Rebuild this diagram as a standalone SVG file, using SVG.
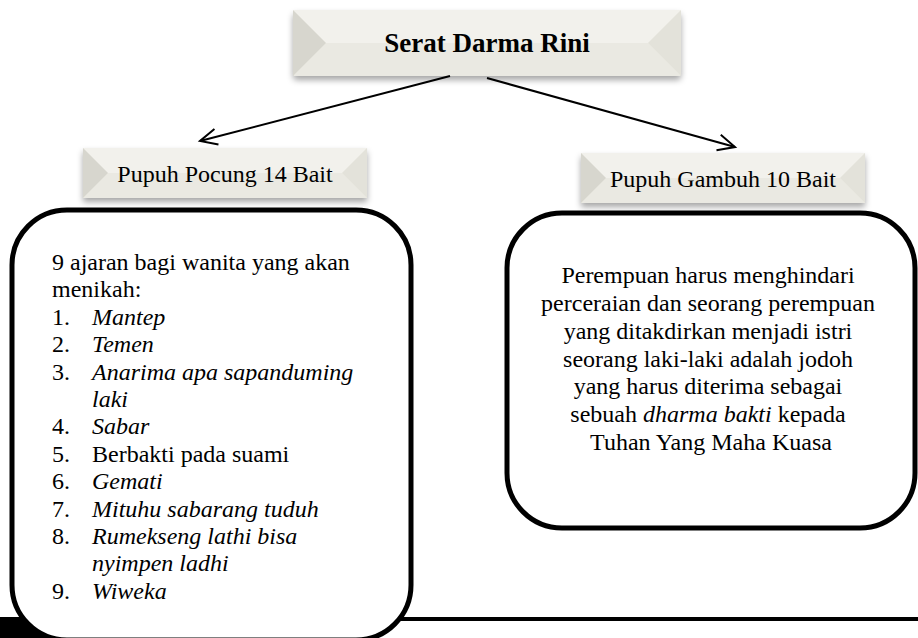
<svg xmlns="http://www.w3.org/2000/svg" width="918" height="638" viewBox="0 0 918 638">
<defs>
<filter id="sh" x="-10%" y="-20%" width="120%" height="160%">
<feDropShadow dx="0" dy="4" stdDeviation="3" flood-color="#000" flood-opacity="0.35"/>
</filter>
<marker id="arr" markerUnits="userSpaceOnUse" markerWidth="24" markerHeight="24" refX="0" refY="0" viewBox="-20 -12 24 24" orient="auto" overflow="visible">
<path d="M-17,-8 L0,0 L-17,8" fill="none" stroke="#000" stroke-width="2"/>
</marker>
</defs>
<style>
text{font-family:"Liberation Serif","Times New Roman",serif;fill:#000}
.t{font-size:24px}
.h{font-size:27px;font-weight:bold}
.i{font-style:italic}
.face{fill:#EFEEE8}
.top{fill:#F2F1EC}
.bot{fill:#EAE9E2}
.lft{fill:#D7D6CE}
.rgt{fill:#E3E2DA}
.big{fill:#fff;stroke:#000;stroke-width:5}
.conn{stroke:#000;stroke-width:2;fill:none}
</style>
<rect width="918" height="638" fill="#fff"/>

<g id="page-border">
<rect x="0" y="617" width="918" height="4" fill="#000"/>
<rect x="0" y="617" width="120" height="21" fill="#000"/>
</g>

<g id="n-serat">
<rect x="293" y="10" width="388" height="66" rx="4" class="face" filter="url(#sh)"/>
<polygon points="293,10 681,10 648,43 326,43" class="top"/>
<polygon points="293,76 681,76 648,43 326,43" class="bot"/>
<polygon points="293,10 326,43 293,76" class="lft"/>
<polygon points="681,10 648,43 681,76" class="rgt"/>
<text x="487" y="52" class="h" text-anchor="middle">Serat Darma Rini</text>
</g>

<g id="n-pocung">
<rect x="83" y="148" width="284" height="50" class="face" filter="url(#sh)"/>
<polygon points="83,148 367,148 342,173 108,173" class="top"/>
<polygon points="83,198 367,198 342,173 108,173" class="bot"/>
<polygon points="83,148 108,173 83,198" class="lft"/>
<polygon points="367,148 342,173 367,198" class="rgt"/>
<text x="225" y="182" class="t" text-anchor="middle">Pupuh Pocung 14 Bait</text>
</g>

<g id="n-gambuh">
<rect x="581" y="153" width="284" height="50" class="face" filter="url(#sh)"/>
<polygon points="581,153 865,153 840,178 606,178" class="top"/>
<polygon points="581,203 865,203 840,178 606,178" class="bot"/>
<polygon points="581,153 606,178 581,203" class="lft"/>
<polygon points="865,153 840,178 865,203" class="rgt"/>
<text x="723" y="187" class="t" text-anchor="middle">Pupuh Gambuh 10 Bait</text>
</g>

<g id="connectors">
<line x1="450" y1="76" x2="200" y2="141" class="conn" marker-end="url(#arr)"/>
<line x1="487" y1="78" x2="735" y2="147" class="conn" marker-end="url(#arr)"/>
</g>

<g id="n-ajaran">
<rect x="12" y="210" width="399" height="430" rx="55" class="big"/>
<text class="t">
<tspan x="52" y="270">9 ajaran bagi wanita yang akan</tspan>
<tspan x="52" y="297.4">menikah:</tspan>
</text>
<g class="t">
<text x="52" y="324.8" class="t">1.</text><text x="92" y="324.8" class="t i">Mantep</text>
<text x="52" y="352.2" class="t">2.</text><text x="92" y="352.2" class="t i">Temen</text>
<text x="52" y="379.6" class="t">3.</text><text x="92" y="379.6" class="t i">Anarima apa sapanduming</text>
<text x="92" y="407" class="t i">laki</text>
<text x="52" y="434.4" class="t">4.</text><text x="92" y="434.4" class="t i">Sabar</text>
<text x="52" y="461.8" class="t">5.</text><text x="92" y="461.8" class="t">Berbakti pada suami</text>
<text x="52" y="489.2" class="t">6.</text><text x="92" y="489.2" class="t i">Gemati</text>
<text x="52" y="516.6" class="t">7.</text><text x="92" y="516.6" class="t i">Mituhu sabarang tuduh</text>
<text x="52" y="544" class="t">8.</text><text x="92" y="544" class="t i">Rumekseng lathi bisa</text>
<text x="92" y="571.4" class="t i">nyimpen ladhi</text>
<text x="52" y="598.8" class="t">9.</text><text x="92" y="598.8" class="t i">Wiweka</text>
</g>
</g>

<g id="n-perempuan">
<rect x="507" y="213" width="408" height="315" rx="55" class="big"/>
<text class="t" text-anchor="middle">
<tspan x="711" y="283">Perempuan harus menghindari</tspan>
<tspan x="711" y="311">perceraian dan seorang perempuan</tspan>
<tspan x="711" y="339">yang ditakdirkan menjadi istri</tspan>
<tspan x="711" y="367">seorang laki-laki adalah jodoh</tspan>
<tspan x="711" y="394">yang harus diterima sebagai</tspan>
<tspan x="711" y="422">sebuah <tspan class="i">dharma bakti</tspan> kepada</tspan>
<tspan x="711" y="450">Tuhan Yang Maha Kuasa</tspan>
</text>
</g>
</svg>
